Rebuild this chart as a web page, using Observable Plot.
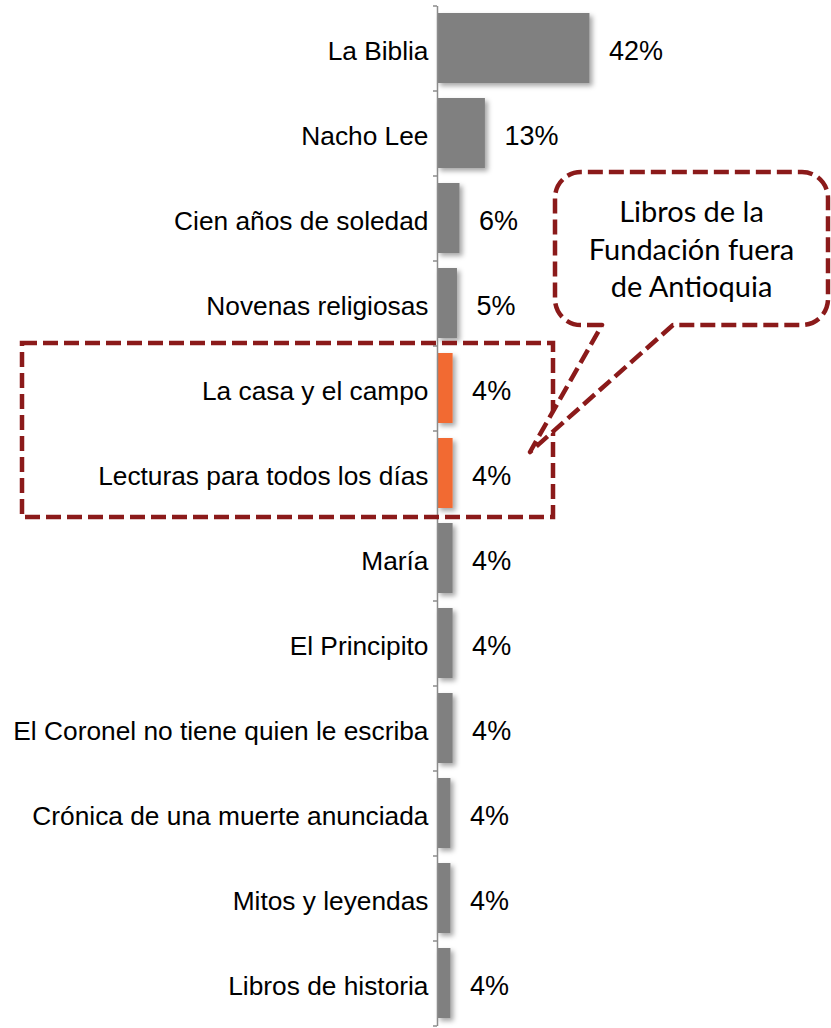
<!DOCTYPE html>
<html>
<head>
<meta charset="utf-8">
<script src="https://cdn.jsdelivr.net/npm/d3@7"></script>
<script src="https://cdn.jsdelivr.net/npm/@observablehq/plot@0.6"></script>
<style>
  html, body { margin: 0; padding: 0; background: #ffffff; }
  #chart { width: 831px; height: 1028px; }
</style>
</head>
<body>
<div id="chart"></div>
<script>
// ---- Data ----
const categories = [
  "La Biblia",
  "Nacho Lee",
  "Cien años de soledad",
  "Novenas religiosas",
  "La casa y el campo",
  "Lecturas para todos los días",
  "María",
  "El Principito",
  "El Coronel no tiene quien le escriba",
  "Crónica de una muerte anunciada",
  "Mitos y leyendas",
  "Libros de historia"
];
const values = [42, 13.2, 6.2, 5.5, 4.3, 4.3, 4.3, 4.3, 4.3, 3.7, 3.7, 3.7];
const valueLabels = ["42%", "13%", "6%", "5%", "4%", "4%", "4%", "4%", "4%", "4%", "4%", "4%"];
const groups = ["otro", "otro", "otro", "otro", "fundacion", "fundacion", "otro", "otro", "otro", "otro", "otro", "otro"];
const groupNames = ["otro", "fundacion"];
const calloutLines = ["Libros de la", "Fundación fuera", "de Antioquia"];

// ---- Build ----
const data = categories.map((c, i) => ({category: c, value: values[i], label: valueLabels[i], group: groups[i]}));

const W = 831, H = 1028;
const mTop = 6, mBottom = 2, mLeft = 437, mRight = 31;
const step = (H - mTop - mBottom) / categories.length;
const pxPerUnit = (W - mLeft - mRight) / 100;
const tickLen = 4 / pxPerUnit;
const axisColor = "#8c8c8c";

const chart = Plot.plot({
  width: W,
  height: H,
  marginTop: mTop,
  marginBottom: mBottom,
  marginLeft: mLeft,
  marginRight: mRight,
  x: {domain: [0, 100], axis: null},
  y: {domain: categories, paddingInner: 0.176, paddingOuter: 0.088, axis: null},
  color: {domain: groupNames, range: ["#808080", "#F26A32"]},
  style: {fontFamily: "'Liberation Sans', Arial, sans-serif", background: "#ffffff", overflow: "visible"},
  marks: [
    Plot.barX(data, {x: "value", y: "category", fill: "group"}),
    Plot.ruleX([0], {stroke: axisColor, strokeWidth: 1.5}),
    Plot.ruleY(data, {y: "category", x1: -tickLen, x2: 0, dy: -step / 2, stroke: axisColor, strokeWidth: 1.5}),
    Plot.ruleY(data.slice(-1), {y: "category", x1: -tickLen, x2: 0, dy: step / 2, stroke: axisColor, strokeWidth: 1.5}),
    Plot.text(data, {x: 0, y: "category", text: "category", textAnchor: "end", dx: -9, dy: 3, fontSize: 26.3, fill: "#000000"}),
    Plot.text(data, {x: "value", y: "category", text: "label", textAnchor: "start", dx: 19, dy: 3, fontSize: 27, fill: "#000000"})
  ]
});

document.getElementById("chart").appendChild(chart);

// ---- Shadow on bars ----
const svg = d3.select(chart);
const defs = svg.insert("defs", ":first-child");
const f = defs.append("filter").attr("id", "barShadow").attr("x", "-20%").attr("y", "-20%").attr("width", "160%").attr("height", "160%");
f.append("feDropShadow").attr("dx", 3).attr("dy", 3).attr("stdDeviation", 2.5).attr("flood-color", "#000").attr("flood-opacity", 0.35);
svg.selectAll('g[aria-label="bar"]').attr("filter", "url(#barShadow)");

// ---- Annotations ----
const red = "#8B1A1A";
const highlightTop = mTop + step * 4 - 3;
const highlightBottom = mTop + step * 6 + 1;

svg.append("rect")
  .attr("x", 22).attr("y", highlightTop)
  .attr("width", 553 - 22).attr("height", highlightBottom - highlightTop)
  .attr("fill", "none").attr("stroke", red).attr("stroke-width", 4.5)
  .attr("stroke-dasharray", "15 6");

// callout
const bx0 = 555, bx1 = 828, by0 = 172, by1 = 325, r = 26;
const tailL = 602, tailR = 673, tipX = 530, tipY = 452;
const p = `M ${tailL},${by1} L ${bx0 + r},${by1} A ${r} ${r} 0 0 1 ${bx0},${by1 - r} L ${bx0},${by0 + r} A ${r} ${r} 0 0 1 ${bx0 + r},${by0} L ${bx1 - r},${by0} A ${r} ${r} 0 0 1 ${bx1},${by0 + r} L ${bx1},${by1 - r} A ${r} ${r} 0 0 1 ${bx1 - r},${by1} L ${tailR},${by1} L ${tipX},${tipY} Z`;
svg.append("path").attr("d", p)
  .attr("fill", "#ffffff").attr("stroke", red).attr("stroke-width", 4.5)
  .attr("stroke-dasharray", "15 6").attr("stroke-linejoin", "round");

const t = svg.append("text")
  .attr("text-anchor", "middle")
  .attr("font-family", "Lato, 'Open Sans', sans-serif")
  .attr("font-size", 29)
  .attr("fill", "#000");
calloutLines.forEach((line, i) => {
  t.append("tspan").attr("x", (bx0 + bx1) / 2).attr("y", 222 + i * 37.5).text(line);
});
</script>
</body>
</html>
